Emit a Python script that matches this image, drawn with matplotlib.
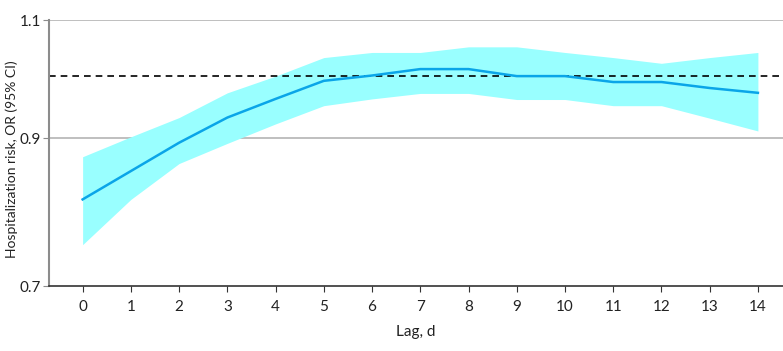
import matplotlib.pyplot as plt
import numpy as np

# lag in days
lag = list(range(15))
# odds ratios and 95% CI
odds = [0.811, 0.851, 0.893, 0.932, 0.962, 0.992, 1.001, 1.012, 1.012,
        1.000, 1.000, 0.990, 0.990, 0.980, 0.972]
upper = [0.872, 0.902, 0.932, 0.972, 1.000, 1.032, 1.041, 1.041, 1.051,
         1.051, 1.041, 1.032, 1.022, 1.032, 1.041]
lower = [0.751, 0.811, 0.862, 0.892, 0.922, 0.951, 0.962, 0.971, 0.971,
         0.961, 0.961, 0.951, 0.951, 0.931, 0.911]
yticks = [0.7, 0.9, 1.1]

plt.rcParams['font.family'] = ['Lato', 'DejaVu Sans']

fig = plt.figure(figsize=(7.83, 3.51), dpi=100)
ax = fig.add_axes([0.063, 0.185, 0.937, 0.758])

ax.set_yscale('log')
ax.set_ylim(0.7, 1.1)
ax.set_xlim(-0.69, 14.52)

for t in yticks[1:]:
    ax.axhline(t, color='#b4b4b4', lw=1.2, zorder=0)

ax.fill_between(lag, lower, upper, color='#99ffff', lw=0, zorder=1)
ax.plot(lag, odds, color='#0aa5e8', lw=1.8, zorder=3)
ax.axhline(1.0, color='black', lw=1.2, ls=(0, (4, 3)), zorder=2)

ax.set_yticks(yticks)
ax.set_yticklabels([str(t) for t in yticks])
ax.yaxis.set_minor_locator(plt.NullLocator())
ax.set_xticks(lag)
ax.set_xticklabels([str(d) for d in lag])

for s in ['top', 'right']:
    ax.spines[s].set_visible(False)
ax.spines['left'].set_color('#8c8c8c')
ax.spines['left'].set_linewidth(1.5)
ax.spines['bottom'].set_color('#333333')
ax.spines['bottom'].set_linewidth(1.2)
ax.tick_params(axis='y', colors='#8c8c8c', labelcolor='#222222', labelsize=11, length=4, pad=2)
ax.tick_params(axis='x', colors='#333333', labelcolor='#222222', labelsize=11, length=4, pad=6)

ax.set_xlabel('Lag, d', fontsize=11, color='#222222', labelpad=8)
ax.set_ylabel('Hospitalization risk, OR (95% CI)', fontsize=10, color='#222222')
ax.yaxis.set_label_coords(-0.043, 0.475)

fig.savefig('out.png', dpi=100)
